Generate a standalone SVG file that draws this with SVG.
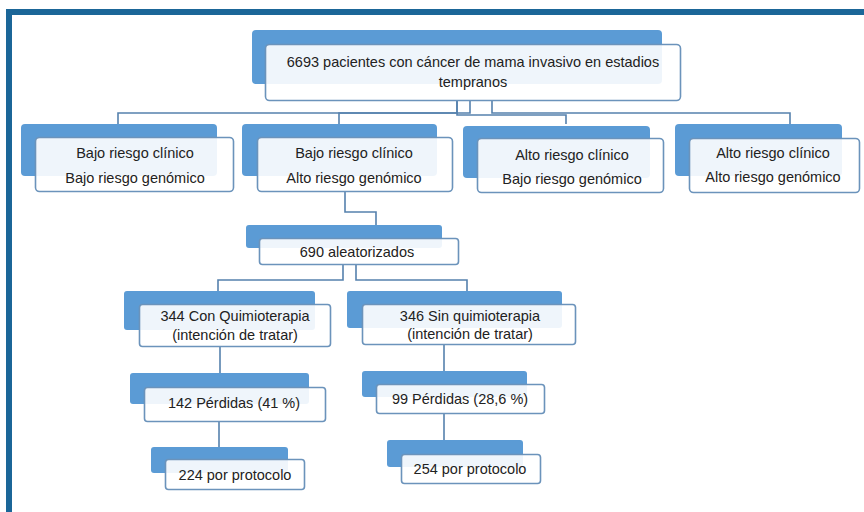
<svg xmlns="http://www.w3.org/2000/svg" width="864" height="512" viewBox="0 0 864 512">
  <style>
    .back { fill: #5b9bd5; }
    .front { fill: #ffffff; fill-opacity: 0.9; stroke: #6b93bb; stroke-width: 1.6; }
    .lbl { font-family: "Liberation Sans", Arial, sans-serif; font-size: 14.5px; fill: #222222; text-anchor: middle; }
    .conn { fill: none; stroke: #5581ad; stroke-width: 1.6; }
  </style>
  <rect width="864" height="512" fill="#ffffff"/>
  <!-- frame -->
  <rect x="6" y="9" width="858" height="6" fill="#1b6698"/>
  <rect x="6" y="9" width="6" height="503" fill="#1b6698"/>

  <g id="connectors">
    <path class="conn" d="M457,100 V115 H566 V124"/>
    <path class="conn" d="M457,100 V113 H118 V124"/>
    <path class="conn" d="M470,100 V113 H339 V124"/>
    <path class="conn" d="M492,100 V113 H790 V124"/>
    <path class="conn" d="M345,192 V212 H376 V225"/>
    <path class="conn" d="M343,264 V280 H218 V291"/>
    <path class="conn" d="M356,264 V280 H467 V291"/>
    <path class="conn" d="M220,346 V373"/>
    <path class="conn" d="M444,344 V371"/>
    <path class="conn" d="M219,421 V447"/>
    <path class="conn" d="M444,413 V440"/>
  </g>

  <g id="n-total">
    <rect class="back" x="252" y="30" width="410" height="54" rx="4"/>
    <rect class="front" x="265.5" y="44.5" width="415" height="56" rx="4"/>
    <text class="lbl" x="473" y="67">6693 pacientes con cáncer de mama invasivo en estadios</text>
    <text class="lbl" x="473" y="87">tempranos</text>
  </g>

  <g id="n-bajo-bajo">
    <rect class="back" x="21" y="124" width="196" height="52" rx="4"/>
    <rect class="front" x="35.5" y="137.5" width="198" height="54" rx="4"/>
    <text class="lbl" x="135" y="158">Bajo riesgo clínico</text>
    <text class="lbl" x="135" y="183">Bajo riesgo genómico</text>
  </g>

  <g id="n-bajo-alto">
    <rect class="back" x="242" y="124" width="195" height="52" rx="4"/>
    <rect class="front" x="257.5" y="137.5" width="195" height="54" rx="4"/>
    <text class="lbl" x="354" y="158">Bajo riesgo clínico</text>
    <text class="lbl" x="354" y="183">Alto riesgo genómico</text>
  </g>

  <g id="n-alto-bajo">
    <rect class="back" x="463" y="126" width="187" height="52" rx="4"/>
    <rect class="front" x="477.5" y="138.5" width="186" height="54" rx="4"/>
    <text class="lbl" x="572" y="160">Alto riesgo clínico</text>
    <text class="lbl" x="572" y="184">Bajo riesgo genómico</text>
  </g>

  <g id="n-alto-alto">
    <rect class="back" x="675" y="124" width="167" height="52" rx="4"/>
    <rect class="front" x="689.5" y="138.5" width="170" height="54" rx="4"/>
    <text class="lbl" x="773" y="158">Alto riesgo clínico</text>
    <text class="lbl" x="773" y="182">Alto riesgo genómico</text>
  </g>

  <g id="n-aleatorizados">
    <rect class="back" x="246" y="225" width="196" height="23" rx="3"/>
    <rect class="front" x="259.5" y="238.5" width="199" height="26" rx="3"/>
    <text class="lbl" x="357" y="257">690 aleatorizados</text>
  </g>

  <g id="n-con-quimio">
    <rect class="back" x="124" y="291" width="191" height="39" rx="3"/>
    <rect class="front" x="139.5" y="304.5" width="191" height="42" rx="3"/>
    <text class="lbl" x="235" y="321">344 Con Quimioterapia</text>
    <text class="lbl" x="235" y="340">(intención de tratar)</text>
  </g>

  <g id="n-sin-quimio">
    <rect class="back" x="347" y="291" width="215" height="37" rx="3"/>
    <rect class="front" x="362.5" y="304.5" width="213" height="40" rx="3"/>
    <text class="lbl" x="470" y="321">346 Sin quimioterapia</text>
    <text class="lbl" x="470" y="339">(intención de tratar)</text>
  </g>

  <g id="n-perdidas-con">
    <rect class="back" x="130" y="373" width="179" height="31" rx="3"/>
    <rect class="front" x="144.5" y="387.5" width="181" height="34" rx="3"/>
    <text class="lbl" x="234" y="408">142 Pérdidas (41 %)</text>
  </g>

  <g id="n-perdidas-sin">
    <rect class="back" x="362" y="371" width="165" height="26" rx="3"/>
    <rect class="front" x="376.5" y="384.5" width="168" height="29" rx="3"/>
    <text class="lbl" x="460" y="404">99 Pérdidas (28,6 %)</text>
  </g>

  <g id="n-protocolo-con">
    <rect class="back" x="151" y="447" width="137" height="26" rx="3"/>
    <rect class="front" x="165.5" y="459.5" width="139" height="30" rx="3"/>
    <text class="lbl" x="235" y="480">224 por protocolo</text>
  </g>

  <g id="n-protocolo-sin">
    <rect class="back" x="387" y="440" width="136" height="27" rx="3"/>
    <rect class="front" x="401.5" y="454.5" width="139" height="29" rx="3"/>
    <text class="lbl" x="470" y="474">254 por protocolo</text>
  </g>
</svg>
